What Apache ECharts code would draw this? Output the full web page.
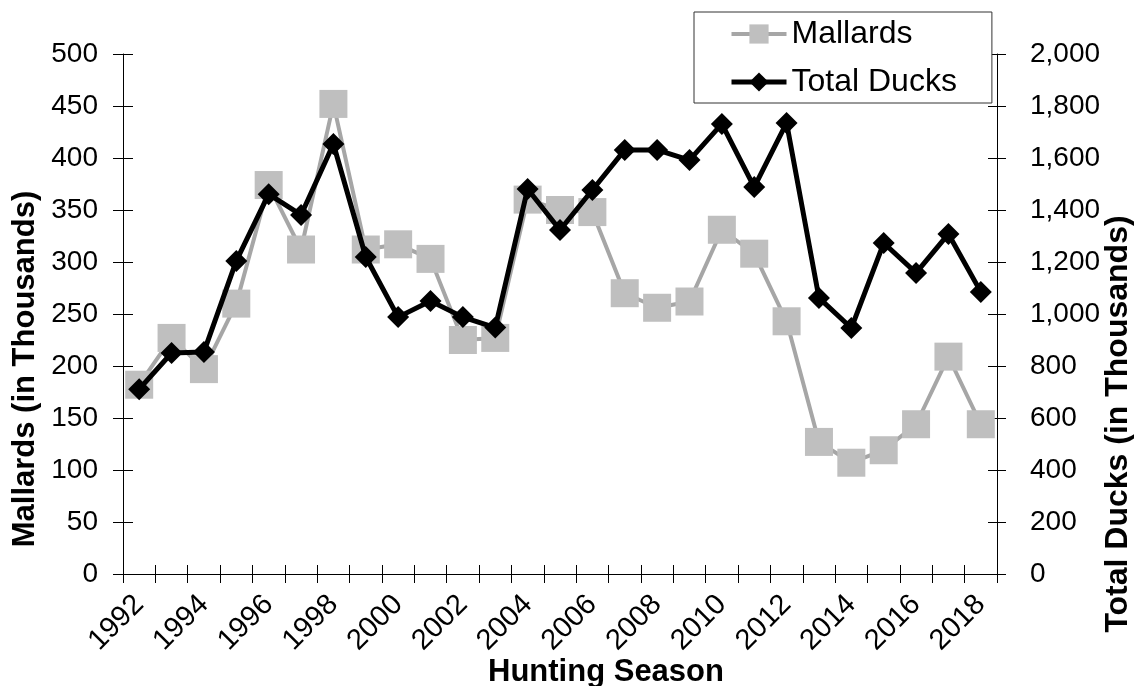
<!DOCTYPE html>
<html>
<head>
<meta charset="utf-8">
<script src="https://cdn.jsdelivr.net/npm/echarts@6/dist/echarts.min.js"></script>
<style>
html,body{margin:0;padding:0;background:#fff;}
#chart{width:1138px;height:686px;}
</style>
</head>
<body>
<div id="chart"></div>
<script>
var years = ['1992','1993','1994','1995','1996','1997','1998','1999','2000','2001','2002','2003','2004','2005','2006','2007','2008','2009','2010','2011','2012','2013','2014','2015','2016','2017','2018'];
var mallards = [182, 227, 197, 260, 374, 312, 452, 312, 317, 303, 225, 227, 360, 350, 348, 270, 256, 262, 331, 308, 243, 127, 107, 119, 144, 209, 144];
var totalDucks = [711, 850, 854, 1204, 1461, 1381, 1654, 1219, 988, 1050, 988, 948, 1481, 1323, 1477, 1631, 1631, 1592, 1731, 1488, 1735, 1062, 946, 1273, 1158, 1308, 1085];
var leftTitle = 'Mallards (in Thousands)';
var rightTitle = 'Total Ducks (in Thousands)';
var xTitle = 'Hunting Season';

var FONT = 'Liberation Sans, Arial, sans-serif';
var chart = echarts.init(document.getElementById('chart'), null, {renderer:'canvas'});

function fmtComma(v){ return String(v).replace(/\B(?=(\d{3})+(?!\d))/g, ','); }

var lineStyleAxis = {show:true, lineStyle:{color:'#000', width:1}};

chart.setOption({
  animation:false,
  backgroundColor:'#fff',
  grid:{left:123, right:141, top:54, bottom:112, containLabel:false},
  legend:{
    orient:'vertical', left:694, top:12,
    padding:[6,35,5,35], itemGap:16, itemWidth:55, itemHeight:24,
    borderColor:'#333', borderWidth:1, backgroundColor:'#fff',
    textStyle:{fontSize:32, fontFamily:FONT, color:'#000'},
    data:[
      {name:'Mallards', lineStyle:{width:4, color:'#a6a6a6'}},
      {name:'Total Ducks', lineStyle:{width:5, color:'#000'}}
    ]
  },
  xAxis:[
    {type:'category', data:years, boundaryGap:true, position:'bottom',
     axisLine:lineStyleAxis,
     axisTick:{show:true, interval:0, length:9, inside:false, lineStyle:{color:'#000'}},
     axisLabel:{interval:1, rotate:45, margin:26, fontSize:29, fontFamily:FONT, color:'#000'},
     splitLine:{show:false}},
    {type:'category', data:years, boundaryGap:true, position:'bottom',
     axisLine:{show:false},
     axisTick:{show:true, interval:0, length:9, inside:true, lineStyle:{color:'#000'}},
     axisLabel:{show:false}, splitLine:{show:false}}
  ],
  yAxis:[
    {type:'value', min:0, max:500, interval:50, position:'left',
     axisLine:lineStyleAxis,
     axisTick:{show:true, length:10, lineStyle:{color:'#000'}},
     axisLabel:{margin:25, fontSize:28, fontFamily:FONT, color:'#000'},
     splitLine:{show:false}},
    {type:'value', min:0, max:2000, interval:200, position:'right',
     axisLine:lineStyleAxis,
     axisTick:{show:true, length:9, lineStyle:{color:'#000'}},
     axisLabel:{margin:33, fontSize:28, fontFamily:FONT, color:'#000', formatter:fmtComma},
     splitLine:{show:false}},
    {type:'value', min:0, max:500, interval:50, position:'left',
     axisLine:{show:false},
     axisTick:{show:true, length:10, inside:true, lineStyle:{color:'#000'}},
     axisLabel:{show:false}, splitLine:{show:false}},
    {type:'value', min:0, max:2000, interval:200, position:'right',
     axisLine:{show:false},
     axisTick:{show:true, length:9, inside:true, lineStyle:{color:'#000'}},
     axisLabel:{show:false}, splitLine:{show:false}}
  ],
  series:[
    {name:'Mallards', type:'line', xAxisIndex:0, yAxisIndex:0, data:mallards,
     symbol:'rect', symbolSize:28, showAllSymbol:true,
     lineStyle:{color:'#a6a6a6', width:4},
     itemStyle:{color:'#bfbfbf', borderWidth:0},
     z:2},
    {name:'Total Ducks', type:'line', xAxisIndex:0, yAxisIndex:1, data:totalDucks,
     symbol:'diamond', symbolSize:22, showAllSymbol:true,
     lineStyle:{color:'#000', width:5},
     itemStyle:{color:'#000', borderWidth:0},
     z:3}
  ],
  graphic:[
    {type:'text', x:25, y:369, rotation:Math.PI/2,
     style:{text:leftTitle, fontSize:31, fontWeight:'bold', fontFamily:FONT, fill:'#000', align:'center', verticalAlign:'middle'}},
    {type:'text', x:1118, y:424, rotation:Math.PI/2,
     style:{text:rightTitle, fontSize:32, fontWeight:'bold', fontFamily:FONT, fill:'#000', align:'center', verticalAlign:'middle'}},
    {type:'text', x:606, y:672,
     style:{text:xTitle, fontSize:31, fontWeight:'bold', fontFamily:FONT, fill:'#000', align:'center', verticalAlign:'middle'}}
  ]
});
</script>
</body>
</html>
